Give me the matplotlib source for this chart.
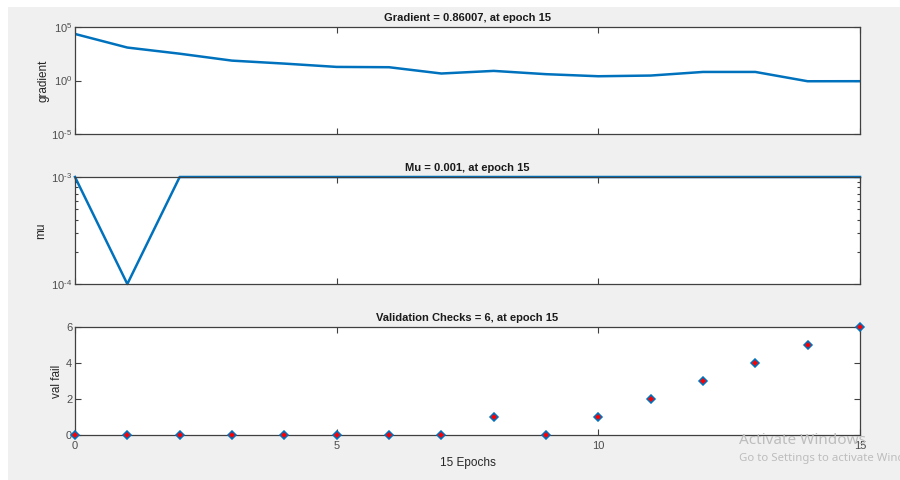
import matplotlib
matplotlib.use("Agg")
import matplotlib.pyplot as plt
from matplotlib.ticker import FixedLocator, NullLocator, LogLocator, NullFormatter, FixedFormatter
from matplotlib.patches import Rectangle

plt.rcParams["font.family"] = ["Liberation Sans", "DejaVu Sans"]
plt.rcParams["mathtext.fontset"] = "custom"
plt.rcParams["mathtext.rm"] = "Liberation Sans"
plt.rcParams["mathtext.it"] = "Liberation Sans"
plt.rcParams["mathtext.bf"] = "Liberation Sans:bold"

epochs = list(range(16))
gradient = [22400, 1200, 320, 72, 38, 18.6, 17.4, 4.5, 7.9, 3.9, 2.5, 2.9, 6.3, 6.3, 0.85, 0.86007]
mu = [1e-3, 1e-4] + [1e-3] * 14
val_fail = [0, 0, 0, 0, 0, 0, 0, 0, 1, 0, 1, 2, 3, 4, 5, 6]

titles = ["Gradient = 0.86007, at epoch 15", "Mu = 0.001, at epoch 15",
          "Validation Checks = 6, at epoch 15"]
ylabels = ["gradient", "mu", "val fail"]
xticks = [0, 5, 10, 15]

W, H = 900, 480
fig = plt.figure(figsize=(9, 4.8), dpi=100, facecolor="white")
fig.patches.append(Rectangle((8 / W, 0), 1 - 8 / W, 1 - 7 / H, transform=fig.transFigure,
                             facecolor="#f0f0f0", edgecolor="none", zorder=-10))

LINE = "#0072BD"
AXC = "#404040"
TXT = "#4d4d4d"


def make_ax(top, bottom):
    ax = fig.add_axes([75 / W, 1 - bottom / H, (860 - 75) / W, (bottom - top) / H])
    ax.set_facecolor("white")
    for s in ax.spines.values():
        s.set_color(AXC)
        s.set_linewidth(0.9)
    ax.tick_params(direction="in", which="both", top=True, right=True, color=AXC,
                   labelcolor=TXT, labelsize=8, length=4, width=0.8, pad=2)
    ax.tick_params(axis="x", pad=4.5)
    ax.tick_params(which="minor", length=2.5)
    ax.set_xlim(0, 15)
    ax.xaxis.set_major_locator(FixedLocator(xticks))
    ax.xaxis.set_minor_locator(NullLocator())
    return ax


# Gradient
ax1 = make_ax(27, 134)
ax1.plot(epochs, gradient, color=LINE, lw=1.8)
ax1.set_yscale("log")
ax1.set_ylim(1e-5, 1e5)
ax1.yaxis.set_major_locator(FixedLocator([1e-5, 1e0, 1e5]))
ax1.yaxis.set_major_formatter(FixedFormatter([r"$10^{\text{-}5}$", r"$10^{0}$", r"$10^{5}$"]))
ax1.yaxis.set_minor_locator(NullLocator())
ax1.set_xticklabels([])

# Mu
ax2 = make_ax(177, 284)
ax2.plot(epochs, mu, color=LINE, lw=1.8, clip_on=False)
ax2.set_yscale("log")
ax2.set_ylim(1e-4, 1e-3)
ax2.yaxis.set_major_locator(FixedLocator([1e-4, 1e-3]))
ax2.yaxis.set_major_formatter(FixedFormatter([r"$10^{\text{-}4}$", r"$10^{\text{-}3}$"]))
ax2.yaxis.set_minor_locator(LogLocator(base=10, subs=range(2, 10)))
ax2.yaxis.set_minor_formatter(NullFormatter())
ax2.set_xticklabels([])

# Validation checks
ax3 = make_ax(327, 435)
ax3.plot(epochs, val_fail, linestyle="none", marker="D", markersize=4,
         markerfacecolor="red", markeredgecolor=LINE, markeredgewidth=1.1, clip_on=False, zorder=5)
ax3.set_ylim(0, 6)
ax3.yaxis.set_major_locator(FixedLocator([0, 2, 4, 6]))
ax3.yaxis.set_minor_locator(NullLocator())
ax3.set_xticklabels([str(t) for t in xticks])
ax3.set_xlabel("15 Epochs", fontsize=8.5, color="#262626", labelpad=4)

for ax, t, yl in zip([ax1, ax2, ax3], titles, ylabels):
    ax.set_title(t, fontsize=8, fontweight="bold", color="#1a1a1a", pad=4)
    ax.set_ylabel(yl, fontsize=8.5, color="#262626")
ax1.yaxis.set_label_coords(-0.032, 0.5)
ax2.yaxis.set_label_coords(-0.036, 0.5)
ax3.yaxis.set_label_coords(-0.015, 0.5)

# Watermark
fig.text(739 / W, 1 - 441 / H, "Activate Windows", fontsize=11, color="#bdbdbd",
         family="Noto Sans", va="center", ha="left", zorder=20)
fig.text(739 / W, 1 - 459 / H, "Go to Settings to activate Windows", fontsize=8.2,
         color="#bdbdbd", family="Noto Sans", va="center", ha="left", zorder=20)

fig.savefig("out.png", dpi=100, facecolor="white")
